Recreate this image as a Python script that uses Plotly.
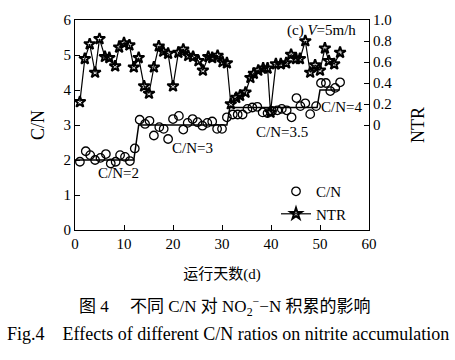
import plotly.graph_objects as go

# ---- data ----
cn_days = [1, 2.2, 3.1, 4.1, 5.2, 6.3, 7.3, 8.3, 9.2, 10.2, 11.2, 12.2, 13.2, 14.3, 15.2, 16.1,
           17.2, 18.1, 19, 20, 21.2, 22.1, 23, 24, 25, 26, 27, 28, 29, 30, 31, 32.2, 33.2, 34.2,
           35.2, 36.2, 37.2, 38.3, 39.3, 40.2, 41.3, 42.2, 43.2, 44.2, 45.2, 46, 47, 48, 49.2,
           50.2, 51.2, 52.1, 53.1, 54.1]
cn_vals = [1.95, 2.25, 2.14, 2.0, 2.06, 2.17, 1.9, 1.95, 2.14, 2.09, 1.97, 2.33, 3.15, 3.03, 3.12, 2.70,
           2.94, 2.89, 2.60, 3.17, 3.26, 2.87, 3.06, 3.17, 3.08, 2.98, 3.06, 3.10, 2.89, 2.89, 3.22, 3.30, 3.30, 3.30,
           3.46, 3.50, 3.52, 3.36, 3.34, 3.40, 3.42, 3.46, 3.42, 3.22, 3.77, 3.54, 3.62, 3.31, 3.54,
           4.2, 4.2, 3.97, 4.06, 4.22]

ntr_days = [1, 2, 3, 4.1, 5, 6.1, 7, 8.2, 9, 10, 11.1, 12, 13, 14.1, 15.1, 16.1, 17.1, 18, 19, 20,
            21.1, 22.1, 23.1, 24.1, 25.2, 26.1, 27.2, 28, 29.1, 30.1, 31, 31.8, 32.9, 33.7, 34.8,
            35.8, 36.5, 37.4, 38.4, 39.3, 39.9, 41, 42, 43.1, 44.1, 45.1, 45.9, 47, 48, 49, 50,
            51, 51.8, 52.9, 54.1]
ntr_vals = [0.22, 0.63, 0.77, 0.50, 0.82, 0.65, 0.64, 0.56, 0.74, 0.78, 0.76, 0.55, 0.64, 0.37, 0.30,
            0.55, 0.75, 0.70, 0.68, 0.37, 0.69, 0.72, 0.66, 0.65, 0.61, 0.52, 0.65, 0.64, 0.66, 0.60,
            0.59, 0.20, 0.26, 0.28, 0.31, 0.45, 0.49, 0.52, 0.54, 0.54, 0.12, 0.58, 0.58, 0.59, 0.67,
            0.63, 0.63, 0.80, 0.50, 0.57, 0.52, 0.73, 0.61, 0.58, 0.69]

step_days = [0, 12, 13, 31, 31.6, 49.4, 50, 54]
step_vals = [2, 2, 3, 3, 3.5, 3.5, 4, 4]

x_ticks = [0, 10, 20, 30, 40, 50, 60]
y_ticks = [0, 1, 2, 3, 4, 5, 6]
y2_ticks = [0, 0.2, 0.4, 0.6, 0.8, 1.0]
y2_labels = ["0", "0.2", "0.4", "0.6", "0.8", "1.0"]

SERIF = "Liberation Serif, Times New Roman, Noto Sans CJK SC, serif"
CJK = "Liberation Serif, Noto Sans CJK SC, serif"

W, H = 455, 360
L, R, T, B = 75, 86, 16, 130
PW, PH = W - L - R, H - T - B


def px(xp):
    return (xp - L) / PW


def py(yp):
    return (H - B - yp) / PH


fig = go.Figure()
fig.add_trace(go.Scatter(
    x=step_days, y=step_vals, mode="lines", line=dict(color="black", width=1.5),
    showlegend=False, hoverinfo="skip"))
fig.add_trace(go.Scatter(
    x=cn_days, y=cn_vals, mode="markers", name="C/N",
    marker=dict(symbol="circle-open", size=8.5, color="black", line=dict(width=1.3))))
fig.add_trace(go.Scatter(
    x=ntr_days, y=ntr_vals, mode="lines+markers", name="NTR", yaxis="y2",
    line=dict(color="black", width=1.2),
    marker=dict(symbol="star-open", size=8.5, color="black", line=dict(color="black", width=2.0))))

annos = [
    dict(x=50.4, y=5.69, text="(c) <i>V</i>=5m/h"),
    dict(x=8.8, y=1.62, text="C/N=2"),
    dict(x=24, y=2.33, text="C/N=3"),
    dict(x=42.3, y=2.81, text="C/N=3.5"),
    dict(x=54.4, y=3.52, text="C/N=4"),
]
for a in annos:
    fig.add_annotation(x=a["x"], y=a["y"], xref="x", yref="y", text=a["text"], showarrow=False,
                       xanchor="center", yanchor="middle",
                       font=dict(family=SERIF, size=15, color="black"))

fig.add_annotation(x=px(77), y=py(308), xref="paper", yref="paper", showarrow=False,
                   xanchor="left", yanchor="middle",
                   text="图 4\u3000\u00a0不同 C/N 对 NO<sub>2</sub><sup>−</sup>−N 积累的影响",
                   font=dict(family=CJK, size=17, color="black"))
fig.add_annotation(x=px(5), y=py(336), xref="paper", yref="paper", showarrow=False,
                   xanchor="left", yanchor="middle",
                   text="Fig.4\u00a0\u00a0\u00a0\u00a0Effects of different C/N ratios on nitrite accumulation",
                   font=dict(family=SERIF, size=18, color="black"))

fig.update_layout(
    width=W, height=H, margin=dict(l=L, r=R, t=T, b=B),
    paper_bgcolor="white", plot_bgcolor="white",
    font=dict(family=SERIF, size=15, color="black"),
    xaxis=dict(range=[0, 60], tickvals=x_ticks, ticks="inside", ticklen=5, tickcolor="black",
               showline=True, linecolor="black", linewidth=1.2, mirror=True, showgrid=False,
               zeroline=False, title=dict(text="运行天数(d)", font=dict(family=CJK, size=15), standoff=17)),
    yaxis=dict(range=[0, 6], tickvals=y_ticks, ticks="inside", ticklen=5, tickcolor="black",
               showline=True, linecolor="black", linewidth=1.2, showgrid=False, zeroline=False,
               title=dict(text="C/N", standoff=14)),
    yaxis2=dict(range=[-1, 1], tickvals=y2_ticks, ticktext=y2_labels, overlaying="y", side="right",
                ticks="inside", ticklen=5, tickcolor="black", showline=True, linecolor="black",
                linewidth=1.2, showgrid=False, zeroline=False, title=dict(text="NTR", standoff=20)),
    legend=dict(x=px(276), y=py(174), xanchor="left", yanchor="top", bgcolor="rgba(0,0,0,0)",
                font=dict(family=SERIF, size=15), itemwidth=30, tracegroupgap=0),
)

fig.write_html("out.html", config={"displayModeBar": False},
               post_script="document.body.style.margin='0';document.body.style.padding='0';")
